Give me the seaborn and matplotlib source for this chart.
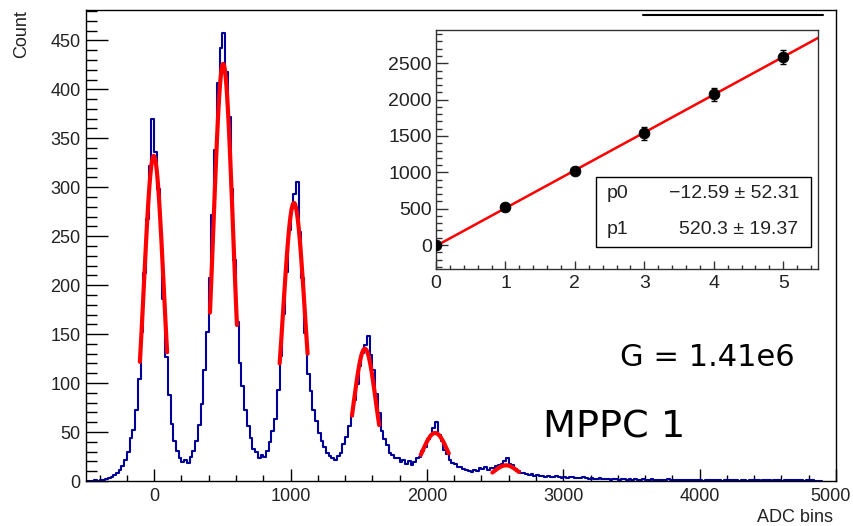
import numpy as np
import pandas as pd
import matplotlib
matplotlib.use("Agg")
import matplotlib.pyplot as plt
import matplotlib.transforms as mtransforms
import seaborn as sns
from matplotlib.ticker import MultipleLocator
from matplotlib.lines import Line2D
from matplotlib.patches import Rectangle

# ---------------- data ----------------
bin_start = -500
bin_width = 20
counts = [
    0, 0, 0, 1, 0, 1, 1, 2, 3, 4,                    # -500..-300
    6, 8, 11, 15, 21, 30, 44, 52, 72, 104,           # -300..-100
    152, 212, 268, 322, 370, 336, 298, 252, 186, 127,  # -100..100
    88, 58, 41, 31, 23, 19, 21, 18, 24, 31,          # 100..300
    41, 57, 79, 113, 152, 207, 272, 338, 406, 442,   # 300..500
    458, 418, 372, 298, 226, 162, 121, 97, 73, 56,   # 500..700
    44, 33, 30, 23, 27, 24, 31, 40, 51, 63,          # 700..900
    93, 128, 171, 213, 256, 279, 293, 305, 254, 207, # 900..1100
    151, 109, 92, 73, 61, 49, 41, 35, 29, 26,        # 1100..1300
    23, 21, 26, 29, 38, 45, 56, 66, 83, 99,          # 1300..1500
    117, 131, 139, 148, 129, 113, 89, 69, 51, 43,    # 1500..1700
    37, 29, 27, 23, 23, 19, 21, 17, 20, 16,          # 1700..1900
    19, 23, 25, 31, 35, 43, 47, 54, 60, 47,          # 1900..2100
    41, 32, 28, 21, 18, 17, 14, 14, 12, 11,          # 2100..2300
    10, 9, 11, 10, 13, 12, 14, 11, 13, 13,           # 2300..2500
    15, 16, 17, 20, 23, 17, 16, 12, 10, 8,           # 2500..2700
    8, 7, 6, 7, 5, 6, 5, 5, 4, 5,                    # 2700..2900
    4, 4, 5, 4, 3, 4, 3, 4, 4, 3,                    # 2900..3100
    3, 3, 4, 3, 2, 3, 2, 2, 3, 2,                    # 3100..3300
    2, 2, 1, 2, 2, 1, 2, 2, 1, 2,                    # 3300..3500
    1, 2, 1, 1, 2, 1, 1, 2, 1, 1,                    # 3500..3700
    1, 1, 1, 2, 1, 1, 1, 1, 1, 1,                    # 3700..3900
    1, 1, 1, 1, 1, 1, 0, 1, 1, 1,                    # 3900..4100
    1, 1, 1, 0, 1, 1, 1, 1, 1, 0,                    # 4100..4300
    1, 1, 0, 1, 1, 1, 1, 0, 1, 1,                    # 4300..4500
    1, 0, 1, 1, 1, 0, 1, 1, 1, 1,                    # 4500..4700
    1, 1, 1, 0, 1, 1, 1, 0, 0, 0,                    # 4700..4900
]

# Gaussian fit results per peak: amplitude, mean, sigma, fit range
fit_amp = [332, 426, 284, 135, 49, 16]
fit_mean = [-3, 506, 1025, 1545, 2060, 2580]
fit_sigma = [72, 72, 80, 80, 95, 90]
fit_lo = [-105, 409, 920, 1450, 1955, 2480]
fit_hi = [95, 607, 1125, 1650, 2160, 2675]

# inset: peak number vs peak position
peak_n = [0, 1, 2, 3, 4, 5]
peak_pos = [0, 519, 1022, 1537, 2073, 2591]
peak_err = [30, 40, 50, 90, 85, 95]
p0_val, p0_err = -12.59, 52.31
p1_val, p1_err = 520.3, 19.37

x_ticks = [0, 1000, 2000, 3000, 4000, 5000]

# ---------------- style ----------------
sns.set_style("white")
plt.rcParams["font.family"] = ["Liberation Sans", "DejaVu Sans"]
plt.rcParams["axes.unicode_minus"] = True

BLUE = "#000099"
RED = "#ff0000"

fig = plt.figure(figsize=(8.54, 5.26), dpi=100)
fig.patch.set_facecolor("white")

# ---------------- main histogram ----------------
ax = fig.add_axes([86 / 854, 1 - 481 / 526, 750 / 854, 471 / 526])
edges = [bin_start + bin_width * i for i in range(len(counts) + 1)]
hist_df = pd.DataFrame({
    "adc": [e + bin_width / 2 for e in edges[:-1]],
    "count": counts,
})
sns.histplot(data=hist_df, x="adc", weights="count", bins=edges, element="step",
             fill=False, color=BLUE, linewidth=1.5, ax=ax)

for a, m, s, lo, hi in zip(fit_amp, fit_mean, fit_sigma, fit_lo, fit_hi):
    xs = np.linspace(lo, hi, 120)
    ys = a * np.exp(-0.5 * ((xs - m) / s) ** 2)
    sns.lineplot(x=xs, y=ys, color=RED, linewidth=3.0, ax=ax, sort=False)

ax.set_xlim(-500, 5000)
ax.set_ylim(0, 481)
ax.set_xlabel("")
ax.set_ylabel("")
ax.xaxis.set_minor_locator(MultipleLocator(200))
ax.yaxis.set_major_locator(MultipleLocator(50))
ax.yaxis.set_minor_locator(MultipleLocator(10))
ax.tick_params(axis="both", which="both", direction="in", color="black", width=1.0,
               labelsize=13, labelcolor="#222222",
               bottom=True, left=True, top=False, right=False)
ax.tick_params(axis="x", which="major", length=8.6, pad=5)
ax.tick_params(axis="x", which="minor", length=4.3)
ax.tick_params(axis="y", which="major", length=16, pad=4)
ax.tick_params(axis="y", which="minor", length=8)
ax.set_xticks(x_ticks)
ax.set_xticklabels([str(t) for t in x_ticks])
# keep the last label inside the canvas
last = ax.get_xticklabels()[-1]
last.set_ha("right")
last.set_transform(last.get_transform() +
                   mtransforms.ScaledTranslation(15 / 100, 0, fig.dpi_scale_trans))
for sp in ax.spines.values():
    sp.set_visible(True)
    sp.set_color("black")
    sp.set_linewidth(1.0)

fig.text(22 / 854, 1 - 10 / 526, "Count", rotation=90, ha="center", va="top",
         fontsize=13, color="#222222")
fig.text(833 / 854, 1 - 517 / 526, "ADC bins", ha="right", va="center",
         fontsize=13, color="#222222")

# ---------------- inset: linear fit ----------------
ins = fig.add_axes([436 / 854, 1 - 269 / 526, 382 / 854, 239 / 526])
ins.set_facecolor("white")
xs_fit = np.linspace(0, 5.5, 200)
sns.lineplot(x=xs_fit, y=p0_val + p1_val * xs_fit, color=RED, linewidth=1.8, ax=ins)
ins.errorbar(peak_n, peak_pos, yerr=peak_err, fmt="none", ecolor="black",
             elinewidth=1.0, capsize=2.5, zorder=3)
sns.scatterplot(x=peak_n, y=peak_pos, color="black", s=60, edgecolor="black",
                ax=ins, zorder=4)
ins.set_xlim(0, 5.5)
ins.set_ylim(-330, 2958)
ins.xaxis.set_major_locator(MultipleLocator(1))
ins.xaxis.set_minor_locator(MultipleLocator(0.2))
ins.yaxis.set_major_locator(MultipleLocator(500))
ins.yaxis.set_minor_locator(MultipleLocator(100))
ins.set_yticks([0, 500, 1000, 1500, 2000, 2500])
ins.tick_params(axis="both", which="both", direction="in", color="#333333", width=1.0,
                labelsize=14, labelcolor="#222222",
                bottom=True, left=True, top=False, right=False)
ins.tick_params(axis="x", which="major", length=5.5, pad=4)
ins.tick_params(axis="x", which="minor", length=3)
ins.tick_params(axis="y", which="major", length=8.6, pad=3)
ins.tick_params(axis="y", which="minor", length=4.3)
for sp in ins.spines.values():
    sp.set_visible(True)
    sp.set_color("#333333")
    sp.set_linewidth(1.0)

# fit parameter box
fig.add_artist(Rectangle((596 / 854, 1 - 247 / 526), 215 / 854, 70 / 526,
                         transform=fig.transFigure, facecolor="white",
                         edgecolor="black", linewidth=1.0, zorder=5))
fig.text(607 / 854, 1 - 194 / 526, "p0", fontsize=14, va="center", zorder=6,
         color="#222222")
fig.text(607 / 854, 1 - 229 / 526, "p1", fontsize=14, va="center", zorder=6,
         color="#222222")
fig.text(800 / 854, 1 - 194 / 526, f"\u2212{abs(p0_val):.2f} \u00b1 {p0_err:.2f}",
         fontsize=14, va="center", ha="right", zorder=6, color="#222222")
fig.text(798 / 854, 1 - 229 / 526, f"{p1_val:.1f} \u00b1 {p1_err:.2f}",
         fontsize=14, va="center", ha="right", zorder=6, color="#222222")

# remnant line of a hidden box at the top
fig.add_artist(Line2D([643 / 854, 823 / 854], [1 - 15 / 526, 1 - 15 / 526],
                      transform=fig.transFigure, color="black", linewidth=1.5))

# annotations
fig.text(620 / 854, 1 - 358 / 526, "G = 1.41e6", fontsize=22, va="center",
         family=["DejaVu Sans"], color="black")
fig.text(543 / 854, 1 - 428 / 526, "MPPC 1", fontsize=27.5, va="center",
         family=["DejaVu Sans"], color="black")

fig.savefig("out.png", dpi=100, facecolor="white")
